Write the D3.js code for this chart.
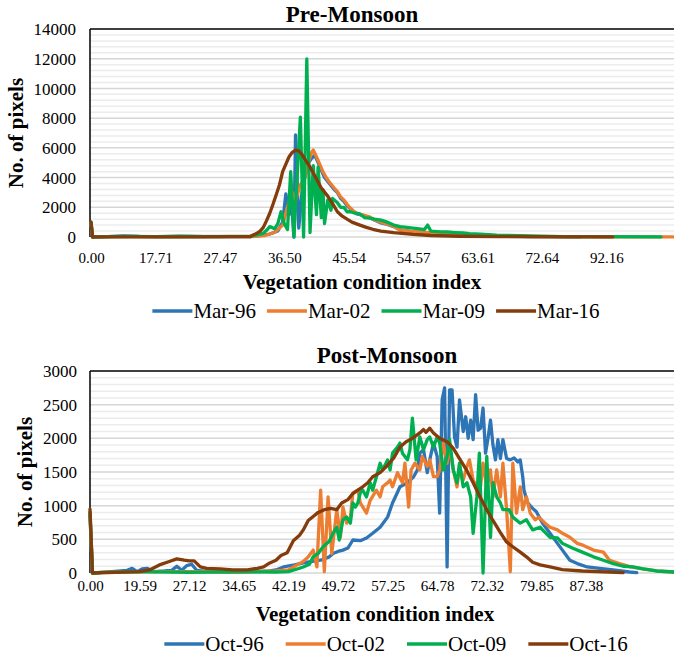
<!DOCTYPE html>
<html>
<head>
<meta charset="utf-8">
<script src="https://cdn.jsdelivr.net/npm/d3@7"></script>
<style>
body { margin: 0; background: #fff; }
svg { display: block; }
text { font-family: "Liberation Serif", "Times New Roman", serif; fill: #000; }
</style>
</head>
<body>
<div id="main"></div>
<script>
// category axis: a label every 40 categories
var preLabels = ["0.00", "17.71", "27.47", "36.50", "45.54", "54.57", "63.61", "72.64", "92.16"];
var postLabels = ["0.00", "19.59", "27.12", "34.65", "42.19", "49.72", "57.25", "64.78", "72.32", "79.85", "87.38"];

var preNames = ["Mar-96", "Mar-02", "Mar-09", "Mar-16"];
var postNames = ["Oct-96", "Oct-02", "Oct-09", "Oct-16"];
var colors = ["#2e75b6", "#ed7d31", "#00b050", "#843c0c"];

// [category, no. of pixels]
var mar96 = [[0,900],[1,0],[10,30],[20,80],[30,40],[45,30],[60,40],[80,30],[99,30],[105,100],[111,200],[116,400],[119,1000],[121,2900],[123,1500],[124,3000],[126,0],[127,6870],[129,600],[131,3000],[133,4500],[135,5000],[137,5300],[139,5500],[141,5000],[143,4500],[145,4000],[148,3600],[151,3200],[153,3000],[155,2600],[157,2400],[159,2100],[161,1900],[163,1700],[165,1550],[169,1450],[173,1300],[177,1100],[180,950],[184,850],[188,700],[192,480],[198,380],[204,320],[211,260],[221,250],[231,130],[242,90],[252,60],[273,30],[304,10]];
var mar02 = [[0,950],[1,0],[10,20],[30,30],[50,20],[70,30],[90,20],[99,20],[108,100],[114,300],[119,800],[122,2000],[125,3000],[127,2500],[130,3500],[133,4000],[135,5000],[137,5700],[138,5850],[140,5400],[142,4900],[144,4400],[146,4000],[148,3700],[151,3300],[153,3050],[155,2700],[157,2500],[159,2200],[161,1950],[163,1750],[165,1600],[169,1480],[173,1350],[176,1150],[180,1000],[183,900],[186,800],[189,650],[192,470],[198,400],[204,340],[211,270],[221,270],[231,130],[242,100],[252,70],[273,30],[316,15],[362,10]];
var mar09 = [[0,1000],[1,0],[10,20],[25,40],[40,30],[55,50],[70,30],[85,40],[99,60],[103,150],[107,250],[109,450],[111,700],[114,550],[116,900],[118,1700],[120,900],[122,500],[124,4400],[126,0],[130,8070],[132,0],[134,11980],[136,300],[138,4800],[140,1500],[141,4700],[143,1300],[144,3200],[145,900],[147,2500],[149,1800],[150,2600],[153,2300],[155,2000],[157,2000],[159,1700],[161,1700],[164,1600],[167,1550],[170,1300],[173,1280],[176,1200],[180,1140],[184,1000],[188,800],[192,700],[196,650],[200,600],[204,540],[207,500],[209,800],[211,400],[217,350],[221,340],[226,300],[231,270],[235,230],[242,200],[252,130],[273,70],[293,30],[316,20],[354,10]];
var mar16 = [[0,1000],[1,0],[2,10],[30,15],[60,15],[90,20],[99,30],[101,150],[103,250],[105,400],[107,650],[109,1100],[111,1600],[113,2200],[115,2850],[117,3500],[119,4400],[121,4900],[123,5400],[125,5700],[127,5850],[129,5800],[131,5550],[133,5200],[135,4900],[137,4500],[140,3900],[143,3300],[147,2750],[150,2250],[153,1700],[156,1400],[159,1200],[162,1000],[167,800],[171,650],[175,520],[180,400],[188,300],[200,180],[211,100],[229,50],[254,20],[324,10]];

var oct96 = [[0,850],[2,0],[10,10],[30,40],[34,70],[38,20],[42,60],[46,70],[52,20],[60,30],[66,40],[70,100],[74,40],[78,110],[82,130],[86,40],[95,20],[110,15],[130,20],[145,30],[150,45],[156,90],[165,120],[172,150],[178,170],[186,190],[193,240],[196,290],[200,320],[204,340],[208,370],[212,490],[218,480],[223,520],[228,590],[234,680],[240,830],[244,1040],[248,1200],[250,1280],[256,1340],[261,1430],[264,1530],[266,1780],[269,1830],[272,1490],[274,1680],[277,1930],[280,1730],[282,890],[284,2570],[286,2750],[288,90],[290,2720],[292,2720],[294,2020],[296,1870],[298,2570],[301,2100],[303,2320],[305,2000],[307,2270],[309,1980],[311,2650],[313,2120],[315,2150],[317,2450],[319,1780],[321,2000],[323,2270],[325,1900],[327,1680],[329,1980],[331,1700],[333,1980],[336,1700],[339,1680],[342,1710],[345,1650],[347,1680],[349,1430],[350,1230],[353,1040],[357,960],[360,910],[365,740],[371,590],[377,440],[381,340],[387,190],[393,140],[401,90],[411,70],[422,45],[435,15],[441,5]];
var oct02 = [[0,900],[2,0],[10,10],[40,20],[80,20],[120,15],[150,30],[160,45],[167,120],[172,170],[176,240],[180,340],[183,90],[186,1230],[189,20],[192,1130],[195,290],[199,940],[202,530],[204,980],[207,740],[210,830],[212,1190],[216,1230],[218,1040],[223,890],[226,1080],[231,1230],[234,1130],[236,1280],[240,1340],[242,1380],[244,1280],[248,1490],[252,1340],[254,1630],[257,980],[259,1530],[262,1630],[266,1530],[268,1730],[272,1580],[274,1680],[277,1430],[280,1430],[282,1530],[285,1930],[288,1630],[290,1870],[293,1530],[296,1280],[298,1580],[301,1380],[304,1580],[306,1680],[309,1380],[312,1280],[314,1130],[317,1630],[320,1280],[323,1530],[325,1130],[328,1530],[331,1130],[333,1630],[336,940],[339,20],[341,1630],[344,890],[347,1280],[349,940],[352,1130],[355,890],[359,790],[362,830],[367,740],[371,680],[377,640],[381,590],[387,530],[393,440],[398,410],[406,340],[414,310],[419,190],[427,140],[436,90],[446,60],[457,30],[471,15]];
var oct09 = [[0,900],[2,0],[10,10],[40,20],[80,10],[120,20],[150,15],[160,20],[169,70],[172,90],[177,130],[180,240],[184,290],[188,390],[193,470],[196,590],[199,680],[201,490],[204,790],[207,830],[210,740],[212,1040],[214,980],[216,1040],[218,1190],[220,1230],[223,1130],[226,1340],[228,1230],[231,1430],[234,1630],[236,1530],[240,1680],[242,1530],[244,1780],[248,1870],[250,1930],[252,1780],[256,1680],[258,1830],[260,2300],[263,1680],[266,2020],[269,1830],[272,1980],[274,2020],[277,1870],[280,2020],[282,1930],[285,1530],[288,1730],[290,1980],[293,1530],[296,1340],[298,1630],[301,1280],[304,1340],[307,1130],[309,590],[312,1130],[314,1780],[317,0],[320,1730],[323,530],[325,1340],[328,1130],[331,1040],[333,940],[338,940],[341,830],[347,740],[352,790],[357,640],[363,680],[365,640],[371,530],[377,520],[381,440],[389,370],[397,310],[406,240],[414,190],[422,140],[430,100],[438,90],[446,60],[457,30],[471,15]];
var oct16 = [[0,950],[2,0],[20,10],[40,20],[48,45],[56,120],[64,170],[70,210],[76,190],[80,180],[84,180],[89,90],[94,70],[105,60],[115,45],[127,45],[135,70],[140,90],[145,150],[150,190],[154,260],[159,300],[164,480],[169,560],[172,640],[176,780],[180,840],[184,900],[189,940],[194,960],[199,940],[203,1040],[208,1090],[212,1180],[216,1230],[220,1280],[224,1340],[228,1430],[234,1490],[240,1600],[245,1710],[250,1870],[255,1950],[260,2000],[266,2080],[269,2130],[271,2090],[274,2150],[277,2080],[282,2000],[288,1950],[293,1850],[298,1700],[304,1520],[309,1340],[314,1150],[320,940],[325,780],[331,600],[336,460],[341,390],[347,310],[352,240],[357,160],[363,120],[371,90],[381,50],[397,30],[430,5]];

var W = 674, H = 658;

var svg = d3.select("#main")
        .append("svg")
        .attr("width", W)
        .attr("height", H)
        .attr("font-family", "Liberation Serif, Times New Roman, serif");

function drawPanel(p) {
    var g = svg.append("g");
    var x = d3.scaleLinear().domain([0, p.lastCat]).range([p.left, 674]);
    var y = d3.scaleLinear().domain([0, p.yMax]).range([p.bottom, p.top]);

    // minor gridlines
    g.append("g").selectAll("line")
        .data(d3.range(p.minor, p.yMax, p.minor).filter(function(v) { return v % p.major !== 0; }))
        .enter().append("line")
        .attr("x1", 90).attr("x2", 674)
        .attr("y1", y).attr("y2", y)
        .attr("stroke", "#ececec")
        .attr("stroke-width", 1.5);

    // major gridlines
    g.append("g").selectAll("line")
        .data(d3.range(0, p.yMax, p.major))
        .enter().append("line")
        .attr("x1", 90).attr("x2", 674)
        .attr("y1", y).attr("y2", y)
        .attr("stroke", "#d6d6d6")
        .attr("stroke-width", 1.5);

    // top border and left axis
    g.append("line")
        .attr("x1", 90).attr("x2", 674)
        .attr("y1", p.top).attr("y2", p.top)
        .attr("stroke", "#000").attr("stroke-width", 1.5);
    g.append("line")
        .attr("x1", 90).attr("x2", 90)
        .attr("y1", p.top).attr("y2", p.bottom)
        .attr("stroke", "#000").attr("stroke-width", 1.5);

    var yAxis = g.append("g")
        .attr("transform", "translate(" + p.yLabelX + ",0)")
        .call(d3.axisLeft(y)
              .tickValues(d3.range(0, p.yMax + 1, p.major))
              .tickFormat(d3.format("d"))
              .tickSize(0).tickPadding(0));
    yAxis.attr("font-family", null);
    yAxis.select(".domain").remove();
    yAxis.selectAll("text")
        .attr("dy", "0.33em")
        .style("font-size", "17px");

    var xAxis = g.append("g")
        .attr("transform", "translate(0," + p.xLabelY + ")")
        .call(d3.axisBottom(x)
              .tickValues(p.labels.map(function(l, i) { return i * 40; }))
              .tickFormat(function(d, i) { return p.labels[i]; })
              .tickSize(0).tickPadding(0));
    xAxis.attr("font-family", null);
    xAxis.select(".domain").remove();
    xAxis.selectAll("text")
        .attr("y", 0).attr("dy", 0)
        .style("font-size", "15px");

    var line = d3.line()
            .x(function(d) { return x(d[0]); })
            .y(function(d) { return y(d[1]); });

    g.append("g").selectAll("path")
        .data(p.series)
        .enter().append("path")
        .attr("d", line)
        .attr("fill", "none")
        .attr("stroke", function(d, i) { return colors[i]; })
        .attr("stroke-width", 3.3)
        .attr("stroke-linejoin", "round")
        .attr("stroke-linecap", "round");

    g.append("text")
        .attr("x", p.titleX).attr("y", p.titleY)
        .attr("text-anchor", "middle")
        .style("font-size", "23px")
        .style("font-weight", "bold")
        .text(p.title);

    g.append("text")
        .attr("transform", "translate(" + p.yTitleX + "," + ((p.top + p.bottom) / 2) + ") rotate(-90)")
        .attr("dy", "0.35em")
        .attr("text-anchor", "middle")
        .style("font-size", "21px")
        .style("font-weight", "bold")
        .text("No. of pixels");

    g.append("text")
        .attr("x", p.xTitleX).attr("y", p.xTitleY)
        .attr("text-anchor", "middle")
        .style("font-size", "21px")
        .style("font-weight", "bold")
        .text("Vegetation condition index");

    // legend
    var leg = g.append("g");
    var items = leg.selectAll("g").data(p.names).enter().append("g");
    items.append("line")
        .attr("x1", 0).attr("x2", 40)
        .attr("y1", 0).attr("y2", 0)
        .attr("stroke", function(d, i) { return colors[i]; })
        .attr("stroke-width", 3.3);
    items.append("text")
        .attr("x", 41).attr("dy", "0.33em")
        .style("font-size", "21px")
        .text(function(d) { return d; });
    var widths = [];
    items.each(function() { widths.push(this.getBBox().width); });
    var total = d3.sum(widths) + p.legendGap * (widths.length - 1);
    var cx = p.legendX - total / 2;
    items.attr("transform", function(d, i) {
        var t = "translate(" + cx + "," + p.legendY + ")";
        cx += widths[i] + p.legendGap;
        return t;
    });
}

drawPanel({
    title: "Pre-Monsoon", titleX: 352, titleY: 22,
    top: 29, bottom: 237, left: 91, lastCat: 362,
    yMax: 14000, major: 2000, minor: 400,
    yLabelX: 76, xLabelY: 263, yTitleX: 16,
    xTitleX: 362, xTitleY: 289,
    labels: preLabels, names: preNames,
    series: [mar96, mar02, mar09, mar16],
    legendX: 376, legendY: 311, legendGap: 11
});

drawPanel({
    title: "Post-Monsoon", titleX: 387, titleY: 363,
    top: 371, bottom: 573, left: 90, lastCat: 471,
    yMax: 3000, major: 500, minor: 100,
    yLabelX: 77, xLabelY: 591, yTitleX: 25,
    xTitleX: 375, xTitleY: 621,
    labels: postLabels, names: postNames,
    series: [oct96, oct02, oct09, oct16],
    legendX: 396, legendY: 644, legendGap: 22
});
</script>
</body>
</html>
